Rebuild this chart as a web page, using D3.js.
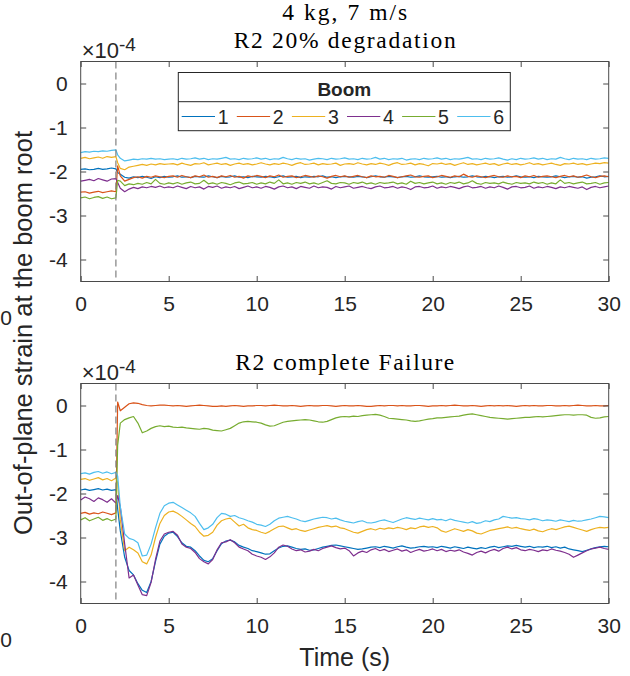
<!DOCTYPE html>
<html>
<head>
<meta charset="utf-8">
<script src="https://cdn.jsdelivr.net/npm/d3@7"></script>
<style>
body { margin: 0; background: #fff; }
svg { display: block; }
text { font-family: "Liberation Sans", Arial, sans-serif; fill: #262626; }
.serif { font-family: "Liberation Serif", "Times New Roman", serif; fill: #000; }
</style>
</head>
<body>
<div id="chart"></div>
<script>
var booms = ["1", "2", "3", "4", "5", "6"];
var colors = ["#0072BD", "#D95319", "#EDB120", "#7E2F8E", "#77AC30", "#4DBEEE"];
var xTicks = [0, 5, 10, 15, 20, 25, 30];
var yTicks = [0, -1, -2, -3, -4];
var eventTime = 2;
// sample times (s): 0..2, one sample at 2.1, then 2.25..30
var time = d3.range(0, 2.001, 0.25).concat([2.1], d3.range(2.25, 30.001, 0.25));

// R2 20% degradation, strain x1e-4
var deg1 = [-1.95,-1.94,-1.96,-1.95,-1.93,-1.95,-1.94,-1.92,-1.94, -2.02,
  -2.06,-2.13,-2.15,-2.12,-2.14,-2.11,-2.13,-2.16,-2.12,-2.14,-2.11,-2.13,
  -2.12,-2.10,-2.13,-2.12,-2.14,-2.11,-2.12,-2.13,-2.10,-2.12,-2.14,-2.11,-2.13,-2.12,-2.10,-2.13,-2.12,-2.14,-2.11,-2.12,
  -2.13,-2.11,-2.12,-2.14,-2.12,-2.10,-2.13,-2.12,-2.11,-2.14,-2.12,-2.13,-2.11,-2.12,-2.10,-2.13,-2.12,-2.14,-2.12,-2.11,
  -2.12,-2.13,-2.11,-2.12,-2.14,-2.12,-2.10,-2.12,-2.13,-2.11,-2.12,-2.14,-2.12,-2.11,-2.13,-2.12,-2.10,-2.12,-2.13,-2.12,
  -2.11,-2.13,-2.12,-2.14,-2.12,-2.11,-2.13,-2.12,-2.10,-2.12,-2.13,-2.11,-2.12,-2.14,-2.12,-2.11,-2.13,-2.12,-2.10,-2.12,
  -2.13,-2.12,-2.14,-2.11,-2.12,-2.13,-2.12,-2.10,-2.12,-2.14,-2.12,-2.11,-2.13,-2.12,-2.15,-2.13,-2.12,-2.10,-2.12,-2.11];
var deg2 = [-2.47,-2.46,-2.49,-2.47,-2.45,-2.48,-2.46,-2.44,-2.46, -1.87,
  -2.10,-2.22,-2.18,-2.14,-2.12,-2.15,-2.11,-2.13,-2.10,-2.12,-2.14,-2.11,
  -2.10,-2.13,-2.09,-2.12,-2.14,-2.10,-2.12,-2.08,-2.13,-2.11,-2.14,-2.10,-2.12,-2.09,-2.13,-2.11,-2.15,-2.10,-2.12,-2.09,
  -2.11,-2.14,-2.10,-2.12,-2.08,-2.13,-2.11,-2.10,-2.14,-2.12,-2.09,-2.11,-2.13,-2.10,-2.12,-2.15,-2.11,-2.09,-2.12,-2.10,
  -2.13,-2.11,-2.09,-2.12,-2.14,-2.10,-2.12,-2.11,-2.13,-2.09,-2.11,-2.14,-2.12,-2.10,-2.08,-2.12,-2.13,-2.11,-2.10,-2.14,
  -2.12,-2.09,-2.11,-2.13,-2.10,-2.12,-2.06,-2.11,-2.13,-2.10,-2.12,-2.14,-2.11,-2.09,-2.12,-2.13,-2.10,-2.12,-2.11,-2.14,
  -2.10,-2.12,-2.09,-2.13,-2.11,-2.10,-2.12,-2.14,-2.11,-2.09,-2.12,-2.10,-2.13,-2.11,-2.08,-2.12,-2.14,-2.11,-2.10,-2.12];
var deg3 = [-1.70,-1.68,-1.71,-1.69,-1.67,-1.70,-1.66,-1.68,-1.66, -1.80,
  -1.93,-1.96,-1.90,-1.88,-1.86,-1.84,-1.86,-1.83,-1.85,-1.82,-1.84,-1.83,
  -1.82,-1.85,-1.81,-1.84,-1.86,-1.82,-1.83,-1.80,-1.85,-1.83,-1.81,-1.84,-1.82,-1.86,-1.83,-1.81,-1.84,-1.82,-1.85,-1.83,
  -1.80,-1.83,-1.85,-1.82,-1.84,-1.81,-1.83,-1.86,-1.82,-1.80,-1.84,-1.83,-1.81,-1.85,-1.82,-1.84,-1.83,-1.81,-1.86,-1.83,
  -1.82,-1.84,-1.80,-1.83,-1.85,-1.82,-1.84,-1.81,-1.83,-1.86,-1.82,-1.80,-1.84,-1.83,-1.81,-1.85,-1.82,-1.84,-1.87,-1.82,
  -1.83,-1.81,-1.84,-1.82,-1.86,-1.83,-1.80,-1.84,-1.82,-1.85,-1.83,-1.81,-1.84,-1.82,-1.86,-1.83,-1.81,-1.84,-1.82,-1.85,
  -1.83,-1.80,-1.84,-1.82,-1.85,-1.83,-1.81,-1.84,-1.86,-1.82,-1.83,-1.81,-1.84,-1.82,-1.85,-1.83,-1.81,-1.82,-1.80,-1.81];
var deg4 = [-2.22,-2.20,-2.18,-2.21,-2.16,-2.19,-2.22,-2.17,-2.16, -2.25,
  -2.38,-2.46,-2.40,-2.36,-2.39,-2.35,-2.37,-2.34,-2.36,-2.33,-2.37,-2.35,
  -2.37,-2.33,-2.36,-2.39,-2.34,-2.37,-2.35,-2.40,-2.34,-2.36,-2.33,-2.38,-2.35,-2.37,-2.34,-2.39,-2.36,-2.33,-2.37,-2.35,
  -2.38,-2.34,-2.36,-2.40,-2.35,-2.33,-2.37,-2.35,-2.39,-2.34,-2.36,-2.38,-2.33,-2.37,-2.35,-2.36,-2.40,-2.34,-2.37,-2.35,
  -2.33,-2.38,-2.36,-2.34,-2.37,-2.39,-2.35,-2.33,-2.37,-2.36,-2.34,-2.38,-2.35,-2.37,-2.41,-2.35,-2.34,-2.37,-2.36,-2.33,
  -2.38,-2.35,-2.37,-2.34,-2.36,-2.39,-2.35,-2.33,-2.37,-2.36,-2.34,-2.38,-2.35,-2.37,-2.33,-2.36,-2.40,-2.35,-2.34,-2.37,
  -2.36,-2.33,-2.38,-2.35,-2.37,-2.34,-2.36,-2.39,-2.35,-2.37,-2.34,-2.36,-2.38,-2.35,-2.41,-2.36,-2.34,-2.37,-2.35,-2.33];
var deg5 = [-2.60,-2.58,-2.62,-2.59,-2.57,-2.61,-2.58,-2.62,-2.60, -2.20,
  -2.22,-2.32,-2.28,-2.30,-2.27,-2.29,-2.25,-2.28,-2.18,-2.27,-2.29,-2.26,
  -2.28,-2.25,-2.29,-2.26,-2.24,-2.28,-2.27,-2.20,-2.28,-2.26,-2.29,-2.25,-2.27,-2.30,-2.26,-2.24,-2.28,-2.27,-2.25,-2.29,
  -2.26,-2.28,-2.24,-2.27,-2.19,-2.28,-2.26,-2.29,-2.25,-2.27,-2.24,-2.28,-2.26,-2.29,-2.25,-2.21,-2.27,-2.28,-2.25,-2.26,
  -2.29,-2.25,-2.27,-2.24,-2.28,-2.26,-2.29,-2.25,-2.27,-2.26,-2.24,-2.28,-2.26,-2.29,-2.22,-2.27,-2.25,-2.28,-2.26,-2.24,
  -2.28,-2.26,-2.29,-2.25,-2.27,-2.24,-2.28,-2.26,-2.21,-2.27,-2.29,-2.25,-2.27,-2.26,-2.28,-2.24,-2.27,-2.29,-2.25,-2.27,
  -2.26,-2.28,-2.24,-2.27,-2.25,-2.29,-2.26,-2.28,-2.19,-2.27,-2.25,-2.28,-2.26,-2.24,-2.28,-2.27,-2.25,-2.29,-2.26,-2.25];
var deg6 = [-1.57,-1.55,-1.56,-1.54,-1.55,-1.53,-1.54,-1.52,-1.51, -1.62,
  -1.70,-1.76,-1.74,-1.72,-1.73,-1.71,-1.72,-1.70,-1.72,-1.71,-1.73,-1.72,
  -1.71,-1.73,-1.70,-1.72,-1.71,-1.69,-1.72,-1.70,-1.73,-1.71,-1.72,-1.70,-1.68,-1.72,-1.71,-1.73,-1.70,-1.72,-1.71,-1.69,
  -1.72,-1.70,-1.73,-1.71,-1.72,-1.68,-1.71,-1.73,-1.70,-1.72,-1.71,-1.74,-1.72,-1.70,-1.71,-1.73,-1.70,-1.72,-1.71,-1.69,
  -1.72,-1.71,-1.73,-1.70,-1.72,-1.71,-1.68,-1.72,-1.70,-1.73,-1.71,-1.72,-1.70,-1.74,-1.72,-1.71,-1.73,-1.70,-1.72,-1.71,
  -1.69,-1.72,-1.70,-1.73,-1.71,-1.72,-1.70,-1.68,-1.72,-1.71,-1.73,-1.70,-1.72,-1.71,-1.69,-1.72,-1.74,-1.71,-1.73,-1.70,
  -1.72,-1.71,-1.69,-1.72,-1.70,-1.73,-1.71,-1.72,-1.68,-1.71,-1.73,-1.70,-1.72,-1.71,-1.73,-1.70,-1.72,-1.71,-1.69,-1.70];

// R2 complete failure, strain x1e-4
var fail1 = [-1.92,-1.90,-1.93,-1.91,-1.89,-1.92,-1.90,-1.93,-1.91, -2.35,
  -2.85,-3.45,-3.75,-3.85,-4.05,-4.20,-4.25,-4.00,-3.55,-3.15,-2.97,-2.90,-2.88,-2.98,-3.12,-3.20,
  -3.22,-3.30,-3.42,-3.52,-3.55,-3.48,-3.30,-3.14,-3.08,-3.06,-3.10,-3.18,-3.22,-3.25,-3.30,-3.32,
  -3.35,-3.38,-3.37,-3.30,-3.24,-3.20,-3.19,-3.22,-3.25,-3.27,-3.26,-3.29,-3.28,-3.25,-3.22,-3.20,-3.18,-3.17,-3.19,-3.21,
  -3.23,-3.25,-3.27,-3.26,-3.24,-3.22,-3.21,-3.23,-3.20,-3.22,-3.24,-3.21,-3.19,-3.22,-3.24,-3.23,-3.21,-3.20,-3.22,-3.21,
  -3.23,-3.20,-3.22,-3.24,-3.21,-3.23,-3.25,-3.22,-3.24,-3.26,-3.23,-3.25,-3.22,-3.20,-3.23,-3.21,-3.19,-3.20,-3.18,-3.20,
  -3.22,-3.20,-3.23,-3.21,-3.22,-3.20,-3.23,-3.21,-3.24,-3.22,-3.26,-3.28,-3.30,-3.32,-3.29,-3.26,-3.23,-3.21,-3.20,-3.21];
var fail2 = [-2.45,-2.43,-2.47,-2.44,-2.46,-2.42,-2.45,-2.48,-2.44, 0.08,
  -0.12,-0.04,0.04,0.06,0.05,0.02,0.00,-0.01,0.00,0.01,0.01,0.00,
  -0.01,0.00,-0.01,-0.02,-0.01,0.00,0.01,0.00,-0.01,-0.02,-0.02,-0.01,-0.02,-0.01,0.00,-0.01,-0.02,-0.01,-0.01,0.00,
  0.00,-0.01,0.00,0.01,0.00,-0.01,-0.01,0.00,-0.01,-0.02,-0.01,0.00,-0.01,-0.01,0.00,0.00,-0.01,-0.02,-0.01,0.00,
  -0.01,-0.01,0.00,-0.01,-0.02,-0.02,-0.01,0.00,-0.01,0.00,0.00,-0.01,0.00,-0.01,-0.01,0.00,0.00,-0.01,-0.02,-0.01,
  -0.01,0.00,-0.01,0.00,0.01,0.00,-0.01,-0.01,0.00,-0.01,-0.02,-0.01,0.00,-0.01,0.00,-0.01,0.00,-0.01,-0.02,-0.01,
  0.00,-0.01,0.00,-0.01,-0.01,0.00,0.00,-0.01,-0.01,0.00,-0.01,0.00,0.01,0.00,-0.01,-0.01,0.00,-0.01,-0.01,0.00];
var fail3 = [-1.68,-1.66,-1.70,-1.67,-1.64,-1.69,-1.66,-1.71,-1.65, -1.75,
  -2.60,-3.30,-3.22,-3.28,-3.35,-3.55,-3.60,-3.40,-3.00,-2.68,-2.50,-2.42,-2.40,-2.45,-2.52,-2.60,
  -2.68,-2.75,-2.88,-2.97,-2.95,-2.88,-2.72,-2.62,-2.58,-2.56,-2.65,-2.74,-2.70,-2.78,-2.82,-2.84,
  -2.88,-2.91,-2.86,-2.80,-2.75,-2.74,-2.78,-2.82,-2.80,-2.84,-2.86,-2.83,-2.80,-2.77,-2.75,-2.73,-2.76,-2.74,-2.78,-2.80,
  -2.84,-2.88,-2.90,-2.86,-2.82,-2.80,-2.83,-2.79,-2.81,-2.78,-2.80,-2.77,-2.79,-2.82,-2.78,-2.80,-2.76,-2.74,-2.77,-2.75,
  -2.78,-2.85,-2.88,-2.84,-2.80,-2.83,-2.86,-2.82,-2.85,-2.90,-2.92,-2.88,-2.84,-2.82,-2.80,-2.78,-2.76,-2.79,-2.77,-2.80,
  -2.82,-2.84,-2.81,-2.85,-2.87,-2.83,-2.80,-2.82,-2.79,-2.76,-2.74,-2.77,-2.80,-2.83,-2.86,-2.82,-2.79,-2.77,-2.78,-2.77];
var fail4 = [-2.15,-2.08,-2.12,-2.18,-2.10,-2.14,-2.20,-2.12,-2.22, -2.05,
  -2.30,-3.15,-3.92,-3.85,-4.08,-4.30,-4.32,-4.02,-3.50,-3.08,-2.92,-2.88,-2.86,-2.95,-3.15,-3.22,
  -3.25,-3.34,-3.48,-3.55,-3.60,-3.50,-3.28,-3.12,-3.10,-3.05,-3.12,-3.22,-3.26,-3.30,-3.38,-3.42,
  -3.45,-3.50,-3.44,-3.35,-3.22,-3.17,-3.20,-3.26,-3.30,-3.28,-3.33,-3.31,-3.27,-3.30,-3.25,-3.22,-3.19,-3.23,-3.26,-3.24,
  -3.30,-3.42,-3.35,-3.31,-3.34,-3.28,-3.25,-3.30,-3.27,-3.32,-3.29,-3.26,-3.31,-3.28,-3.34,-3.30,-3.27,-3.31,-3.29,-3.26,
  -3.30,-3.27,-3.32,-3.29,-3.31,-3.28,-3.33,-3.36,-3.40,-3.34,-3.31,-3.35,-3.30,-3.27,-3.31,-3.25,-3.22,-3.26,-3.23,-3.28,
  -3.30,-3.27,-3.29,-3.32,-3.28,-3.30,-3.26,-3.29,-3.31,-3.34,-3.38,-3.45,-3.40,-3.35,-3.30,-3.26,-3.24,-3.22,-3.25,-3.27];
var fail5 = [-2.60,-2.55,-2.62,-2.58,-2.54,-2.61,-2.57,-2.62,-2.58, -0.90,
  -0.40,-0.32,-0.28,-0.25,-0.40,-0.62,-0.58,-0.52,-0.48,-0.46,-0.48,-0.47,-0.49,-0.50,-0.49,-0.51,
  -0.52,-0.53,-0.54,-0.52,-0.53,-0.56,-0.57,-0.58,-0.55,-0.52,-0.46,-0.40,-0.37,-0.36,-0.37,-0.38,
  -0.40,-0.44,-0.47,-0.46,-0.42,-0.38,-0.36,-0.35,-0.34,-0.33,-0.32,-0.33,-0.35,-0.37,-0.38,-0.36,-0.32,-0.28,-0.26,-0.25,
  -0.26,-0.24,-0.25,-0.23,-0.22,-0.21,-0.20,-0.22,-0.25,-0.29,-0.30,-0.31,-0.32,-0.33,-0.35,-0.36,-0.35,-0.33,-0.31,-0.30,
  -0.28,-0.28,-0.27,-0.26,-0.25,-0.24,-0.22,-0.20,-0.19,-0.21,-0.23,-0.25,-0.27,-0.28,-0.29,-0.30,-0.31,-0.30,-0.29,-0.28,
  -0.27,-0.27,-0.26,-0.25,-0.26,-0.25,-0.24,-0.23,-0.22,-0.21,-0.21,-0.22,-0.21,-0.21,-0.22,-0.27,-0.29,-0.28,-0.26,-0.25];
var fail6 = [-1.55,-1.53,-1.56,-1.52,-1.50,-1.54,-1.51,-1.55,-1.52, -1.60,
  -2.30,-2.92,-3.02,-3.05,-3.12,-3.42,-3.40,-3.15,-2.78,-2.45,-2.28,-2.22,-2.20,-2.26,-2.32,-2.38,
  -2.44,-2.52,-2.68,-2.82,-2.78,-2.70,-2.55,-2.45,-2.47,-2.52,-2.50,-2.55,-2.58,-2.62,-2.65,-2.70,
  -2.72,-2.75,-2.70,-2.62,-2.56,-2.54,-2.52,-2.55,-2.58,-2.62,-2.64,-2.61,-2.58,-2.56,-2.54,-2.55,-2.58,-2.56,-2.60,-2.63,
  -2.65,-2.67,-2.64,-2.62,-2.66,-2.67,-2.65,-2.62,-2.60,-2.63,-2.66,-2.62,-2.58,-2.55,-2.57,-2.59,-2.56,-2.58,-2.60,-2.57,
  -2.60,-2.59,-2.62,-2.58,-2.61,-2.63,-2.65,-2.67,-2.64,-2.68,-2.66,-2.62,-2.64,-2.60,-2.58,-2.52,-2.54,-2.56,-2.55,-2.57,
  -2.58,-2.60,-2.57,-2.59,-2.62,-2.60,-2.61,-2.63,-2.60,-2.62,-2.64,-2.61,-2.63,-2.62,-2.60,-2.58,-2.55,-2.52,-2.53,-2.55];

var panels = [
  {title: ["4 kg, 7 m/s", "R2 20% degradation"], series: [deg1, deg2, deg3, deg4, deg5, deg6], top: 61.5, legend: true},
  {title: ["R2 complete Failure"], series: [fail1, fail2, fail3, fail4, fail5, fail6], top: 383.5, legend: false}
];

var W = 630, H = 676;
var left = 80.7, right = 608.7, ph = 220;
var axisColor = "#4a4a4a";

var svg = d3.select("#chart").append("svg")
  .attr("width", W).attr("height", H);

var x = d3.scaleLinear().domain([0, 30]).range([left, right]);

panels.forEach(function(p) {
  var y = d3.scaleLinear().domain([-4.5, 0.5]).range([p.top + ph, p.top]);
  var g = svg.append("g");

  // series
  var line = d3.line()
    .defined(function(d) { return d[0] != null; })
    .x(function(d) { return x(d[0]); })
    .y(function(d) { return y(d[1]); });

  p.series.forEach(function(s, i) {
    var pts = s.map(function(v, k) { return [time[k], v]; });
    g.append("path")
      .attr("d", line(pts))
      .attr("fill", "none")
      .attr("stroke", colors[i])
      .attr("stroke-width", 1.2)
      .attr("stroke-linejoin", "round");
  });

  // event marker
  g.append("line")
    .attr("x1", x(eventTime)).attr("x2", x(eventTime))
    .attr("y1", p.top).attr("y2", p.top + ph)
    .attr("stroke", "#808080").attr("stroke-width", 1.2)
    .attr("stroke-dasharray", "7,4");

  // axes with inward ticks on all four sides
  var xb = g.append("g").attr("transform", "translate(0," + (p.top + ph) + ")")
    .call(d3.axisBottom(x).tickValues(xTicks).tickSizeInner(-5.5).tickSizeOuter(0).tickPadding(15));
  var xt = g.append("g").attr("transform", "translate(0," + p.top + ")")
    .call(d3.axisTop(x).tickValues(xTicks).tickSizeInner(-5.5).tickSizeOuter(0).tickFormat(""));
  var yl = g.append("g").attr("transform", "translate(" + left + ",0)")
    .call(d3.axisLeft(y).tickValues(yTicks).tickSizeInner(-5.5).tickSizeOuter(0).tickPadding(13)
      .tickFormat(function(d) { return String(d); }));
  var yr = g.append("g").attr("transform", "translate(" + right + ",0)")
    .call(d3.axisRight(y).tickValues(yTicks).tickSizeInner(-5.5).tickSizeOuter(0).tickFormat(""));

  [xb, xt, yl, yr].forEach(function(a) {
    a.select(".domain").remove();
    a.selectAll(".tick line").attr("stroke", axisColor);
    a.selectAll(".tick text")
      .style("font-family", "'Liberation Sans', Arial, sans-serif")
      .style("font-size", "21px").attr("fill", "#262626");
  });

  g.append("rect")
    .attr("x", left).attr("y", p.top)
    .attr("width", right - left).attr("height", ph)
    .attr("fill", "none").attr("stroke", axisColor).attr("stroke-width", 1);

  // exponent
  var ex = g.append("text").attr("x", left + 1).attr("y", p.top - 4)
    .style("font-size", "22px");
  ex.append("tspan").text("\u00d710");
  ex.append("tspan").attr("dy", -7).style("font-size", "19px").text("-4");

  // titles
  var cx = (left + right) / 2;
  var tw = {"4 kg, 7 m/s": 125, "R2 20% degradation": 222, "R2 complete Failure": 219};
  p.title.forEach(function(t, i) {
    g.append("text").attr("class", "serif")
      .attr("x", cx).attr("y", p.top - 14 - (p.title.length - 1 - i) * 27.5)
      .attr("text-anchor", "middle")
      .style("font-size", "23.5px")
      .attr("textLength", tw[t]).attr("lengthAdjust", "spacing")
      .text(t);
  });

  // stray tick label left of the figure
  g.append("text").attr("x", 6).attr("y", p.top + ph + 43.5)
    .attr("text-anchor", "middle").style("font-size", "21px").text("0");

  if (p.legend) {
    var lg = g.append("g");
    lg.append("rect").attr("x", 178.3).attr("y", 72.5).attr("width", 332).attr("height", 58.2)
      .attr("fill", "#fff").attr("stroke", "#262626").attr("stroke-width", 1);
    lg.append("line").attr("x1", 178.3).attr("x2", 510.3).attr("y1", 101.7).attr("y2", 101.7)
      .attr("stroke", "#262626").attr("stroke-width", 1);
    lg.append("text").attr("x", 344.3).attr("y", 95.5).attr("text-anchor", "middle")
      .style("font-size", "19px").style("font-weight", "bold").attr("fill", "#000").text("Boom");
    booms.forEach(function(b, i) {
      var x0 = 181.7 + i * 55.1;
      lg.append("line").attr("x1", x0).attr("x2", x0 + 33.3).attr("y1", 116.5).attr("y2", 116.5)
        .attr("stroke", colors[i]).attr("stroke-width", 1.2);
      lg.append("text").attr("x", x0 + 36).attr("y", 123.8)
        .style("font-size", "19.5px").attr("fill", "#000").text(b);
    });
  }
});

// axis labels
svg.append("text")
  .attr("transform", "translate(32," + 333 + ") rotate(-90)")
  .attr("text-anchor", "middle")
  .style("font-size", "25.5px")
  .text("Out-of-plane strain at the boom root");

svg.append("text")
  .attr("x", (left + right) / 2).attr("y", 666)
  .attr("text-anchor", "middle")
  .style("font-size", "25px")
  .text("Time (s)");
</script>
</body>
</html>
